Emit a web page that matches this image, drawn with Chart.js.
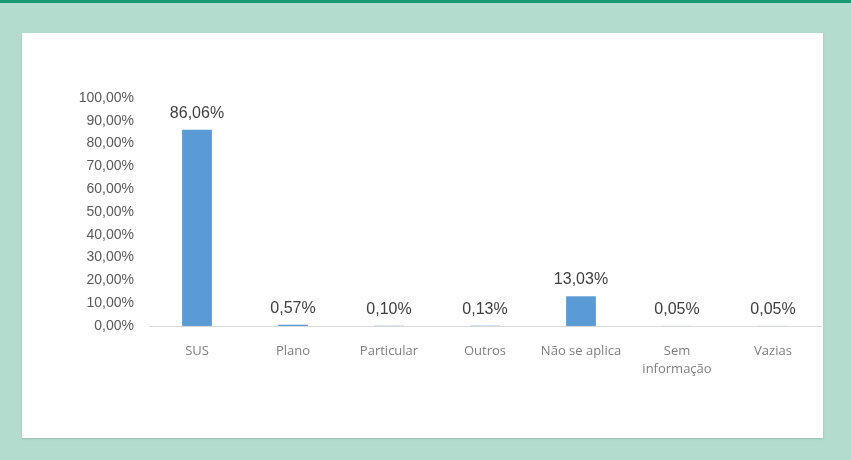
<!DOCTYPE html>
<html>
<head>
<meta charset="utf-8">
<script src="https://cdn.jsdelivr.net/npm/chart.js@4/dist/chart.umd.min.js"></script>
<style>
  html, body { margin: 0; padding: 0; }
  body { width: 851px; height: 460px; background: #b3dccf; position: relative; overflow: hidden; }
  #topbar { position: absolute; left: 0; top: 0; width: 851px; height: 3px; background: #1a9a72; }
  #panel { position: absolute; left: 22px; top: 33px; width: 801px; height: 405px; background: #fff;
           box-shadow: 0 1px 2px rgba(0,0,0,0.12); }
  #wrap { position: absolute; left: 0; top: 0; width: 851px; height: 460px; }
</style>
</head>
<body>
<div id="topbar"></div>
<div id="panel"></div>
<div id="wrap"><canvas id="chart"></canvas></div>
<script>
var categories = ['SUS', 'Plano', 'Particular', 'Outros', 'Não se aplica', ['Sem', 'informação'], 'Vazias'];
var percentages = [86.06, 0.57, 0.10, 0.13, 13.03, 0.05, 0.05];
var yTicks = [0, 10, 20, 30, 40, 50, 60, 70, 80, 90, 100];

function fmt(v) {
    return v.toFixed(2).replace('.', ',') + '%';
}

// percentage above each bar
var valueLabels = {
    id: 'valueLabels',
    afterDatasetsDraw: function (chart) {
        var ctx = chart.ctx;
        var meta = chart.getDatasetMeta(0);
        ctx.save();
        ctx.font = '16px "Liberation Sans", Arial, sans-serif';
        ctx.fillStyle = '#404040';
        ctx.textAlign = 'center';
        ctx.textBaseline = 'alphabetic';
        meta.data.forEach(function (bar, i) {
            ctx.fillText(fmt(percentages[i]), bar.x, bar.y - 12);
        });
        ctx.restore();
    }
};

var ctx = document.getElementById('chart').getContext('2d');
var myChart = new Chart(ctx, {
    type: 'bar',
    data: {
        labels: categories,
        datasets: [{
            label: 'Fonte',
            data: percentages,
            backgroundColor: '#5b9bd5',
            borderWidth: 0,
            barPercentage: 0.31,
            categoryPercentage: 1
        }]
    },
    options: {
        responsive: true,
        maintainAspectRatio: false,
        animation: false,
        layout: { padding: { left: 0, right: 30, top: 98, bottom: 0 } },
        plugins: {
            legend: { display: false },
            tooltip: { enabled: false }
        },
        scales: {
            y: {
                min: 0,
                max: 100,
                afterBuildTicks: function (scale) {
                    scale.ticks = yTicks.map(function (v) { return { value: v }; });
                },
                afterFit: function (scale) { scale.width = 149; },
                grid: { display: false, drawTicks: false },
                border: { display: false },
                ticks: {
                    padding: 15,
                    color: '#595959',
                    font: { family: '"Liberation Sans", Arial, sans-serif', size: 14 },
                    callback: function (v) { return fmt(v); }
                }
            },
            x: {
                afterFit: function (scale) { scale.height = 460 - 326; },
                grid: { display: false, drawTicks: false },
                border: { display: true, color: '#d9d9d9', width: 1 },
                ticks: {
                    padding: 17,
                    maxRotation: 0,
                    autoSkip: false,
                    color: '#7f7f7f',
                    font: { family: '"Open Sans", sans-serif', size: 13, lineHeight: 1.35 }
                }
            }
        }
    },
    plugins: [valueLabels]
});
</script>
</body>
</html>
